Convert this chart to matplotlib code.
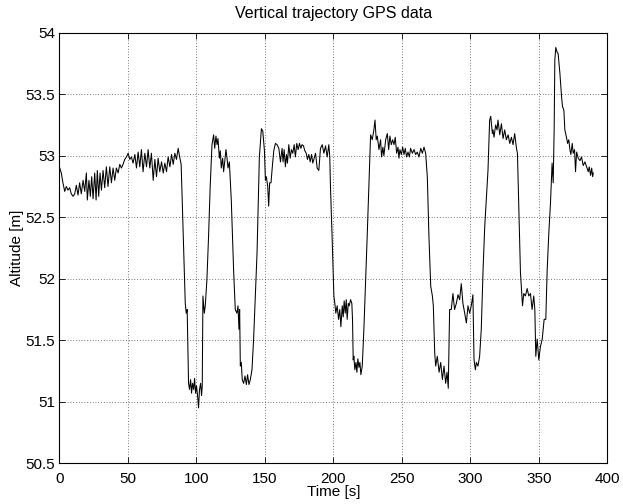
import numpy as np
import matplotlib
matplotlib.use("Agg")
import matplotlib.pyplot as plt
from matplotlib.ticker import FuncFormatter

plt.rcParams['font.family'] = ['Liberation Sans', 'DejaVu Sans']

# ------------------------------
# Data, one chunk per flight phase
# ------------------------------
# level start, slowly climbing
time_level = [0.0, 1.4, 2.6, 3.9, 5.1, 6.3, 7.5, 8.7, 10.0, 11.2, 12.4, 13.6, 14.8, 16.0, 17.3,
              18.5, 19.7, 20.4, 21.6, 22.6, 23.6, 24.6, 25.8, 26.8, 27.7, 28.7, 29.7, 30.7, 31.9,
              33.1, 34.3, 35.5, 36.8, 38.0, 39.2, 40.4, 41.6, 42.9, 44.1, 45.3, 46.5, 47.7, 49.0,
              50.2, 51.4, 52.6, 53.8, 55.1, 56.3, 57.5, 58.7, 59.9, 61.1, 62.4, 63.6, 64.8, 66.0,
              67.2, 68.5, 69.7, 70.9, 72.1, 73.3, 74.6, 75.8, 77.0, 78.2, 79.4, 80.7, 81.9, 83.1,
              84.3, 85.5, 86.7, 88.0]
alt_level = [52.91, 52.86, 52.78, 52.71, 52.75, 52.72, 52.74, 52.69, 52.67, 52.69, 52.76, 52.68,
             52.78, 52.69, 52.80, 52.71, 52.86, 52.64, 52.80, 52.67, 52.83, 52.65, 52.86, 52.64,
             52.88, 52.67, 52.86, 52.72, 52.88, 52.74, 52.91, 52.75, 52.91, 52.78, 52.90, 52.80,
             52.90, 52.86, 52.93, 52.90, 52.93, 52.97, 52.99, 53.02, 52.97, 52.99, 52.94, 53.01,
             52.90, 53.03, 52.91, 53.05, 52.87, 53.02, 52.91, 53.05, 52.90, 53.02, 52.80, 52.97,
             52.83, 52.98, 52.87, 52.95, 52.86, 52.94, 52.87, 52.99, 52.91, 53.01, 52.93, 53.02,
             52.97, 53.06, 52.98]

# first two dips
time_dips1 = [88.9, 91.9, 92.6, 93.3, 94.3, 95.0, 95.8, 96.5, 97.2, 98.0, 98.7, 99.4, 100.1,
              100.9, 101.6, 102.3, 103.1, 103.8, 104.3, 104.8, 105.8, 106.5, 107.7, 108.9, 110.1,
              111.4, 112.6, 113.4, 114.3, 115.1, 115.8, 116.8, 117.5, 118.2, 119.2, 119.9, 120.7,
              121.6, 122.4, 123.1, 124.1, 124.8, 125.5, 127.2, 128.4, 129.6, 130.4, 131.1, 131.6,
              132.1, 132.8, 133.5, 134.5, 135.5, 136.5, 137.4, 138.4, 139.4, 140.6, 141.8, 144.3,
              146.0, 147.5, 148.5, 149.7, 150.4, 151.1, 152.1, 152.8, 153.5, 154.5, 155.3, 156.5,
              157.7]
alt_dips1 = [52.93, 51.80, 51.72, 51.75, 51.15, 51.10, 51.18, 51.07, 51.15, 51.10, 51.19, 51.07,
             51.13, 51.05, 50.95, 51.10, 51.15, 51.05, 51.13, 51.86, 51.72, 51.78, 51.99, 52.34,
             52.75, 53.09, 53.17, 53.06, 53.16, 53.09, 53.14, 52.98, 53.04, 52.90, 52.98, 52.87,
             52.95, 53.05, 52.98, 52.90, 52.95, 52.79, 52.64, 52.07, 51.75, 51.72, 51.78, 51.59,
             51.75, 51.29, 51.32, 51.18, 51.15, 51.21, 51.14, 51.22, 51.14, 51.18, 51.26, 51.51,
             52.21, 52.99, 53.22, 53.20, 53.04, 52.80, 52.83, 52.75, 52.59, 52.78, 52.78, 52.89,
             53.04, 53.10]

# level stretch before the steps
time_level2 = [158.9, 160.2, 161.4, 162.6, 163.3, 164.1, 165.0, 165.8, 166.5, 167.5, 168.5, 169.4,
               170.4, 171.4, 172.3, 173.3, 174.3, 175.3, 176.3, 177.2, 178.2, 179.2, 180.2, 181.1,
               182.1, 183.1, 184.1, 185.0, 186.0, 187.0, 188.2, 189.4, 190.6, 191.9, 193.1, 194.3,
               195.5, 196.7, 197.4]
alt_level2 = [53.09, 53.06, 52.95, 53.06, 52.95, 53.05, 52.91, 53.01, 52.94, 53.09, 52.98, 53.05,
              53.02, 53.09, 52.99, 53.10, 53.05, 53.10, 53.06, 53.09, 53.08, 53.04, 53.02, 52.97,
              53.01, 52.95, 53.01, 52.94, 52.98, 53.02, 52.90, 52.88, 53.06, 53.09, 53.02, 53.08,
              52.99, 53.09, 52.99]

# two-step descent and climb, then level
time_steps = [197.9, 199.1, 200.4, 201.1, 201.8, 202.8, 203.8, 204.7, 205.5, 206.5, 207.2, 207.9,
              208.7, 209.4, 210.1, 210.9, 211.6, 212.6, 213.5, 214.0, 214.5, 215.0, 215.7, 216.5,
              217.2, 217.9, 218.7, 219.4, 220.1, 221.1, 222.3, 224.7, 226.7, 227.2, 228.4, 229.6,
              230.4, 231.3, 232.1, 233.3, 234.5, 235.2, 236.2, 236.9, 238.2, 239.4, 240.4, 241.3,
              242.3, 243.3, 244.3, 245.2, 246.2, 247.2, 247.9, 248.6, 249.6, 250.6, 251.6, 252.5,
              253.5, 254.5, 255.5, 256.4, 257.7, 258.9, 260.1, 261.3, 262.5, 263.8, 265.0, 266.2,
              267.4]
alt_steps = [52.75, 52.34, 51.86, 51.80, 51.72, 51.78, 51.67, 51.75, 51.61, 51.78, 51.69, 51.82,
             51.72, 51.83, 51.67, 51.80, 51.78, 51.83, 51.80, 51.67, 51.34, 51.37, 51.26, 51.32,
             51.24, 51.35, 51.28, 51.32, 51.22, 51.29, 51.59, 52.34, 53.02, 53.17, 53.13, 53.21,
             53.29, 53.13, 53.16, 53.05, 53.13, 52.99, 53.07, 53.00, 53.13, 53.18, 53.05, 53.16,
             53.09, 53.13, 53.09, 53.15, 53.02, 53.07, 52.98, 53.05, 53.01, 53.07, 53.01, 53.06,
             52.99, 53.03, 52.99, 53.06, 53.02, 53.05, 53.01, 53.03, 52.99, 53.06, 53.02, 53.07,
             53.02]

# last descents and the overshoot at the end
time_end = [268.6, 269.8, 271.1, 272.3, 273.0, 274.0, 274.7, 275.9, 277.2, 278.4, 279.6, 280.8,
            282.0, 283.0, 283.9, 284.9, 286.1, 287.3, 288.5, 289.8, 291.0, 292.2, 293.4, 294.6,
            295.9, 297.1, 298.3, 299.5, 300.7, 301.9, 302.7, 303.7, 304.4, 305.6, 306.8, 308.0,
            309.3, 310.5, 312.9, 314.1, 314.9, 316.1, 316.6, 317.3, 318.5, 319.5, 320.2, 321.5,
            322.7, 323.9, 325.1, 326.3, 327.6, 328.8, 330.0, 331.2, 332.4, 333.7, 334.4, 335.4,
            336.6, 338.1, 339.0, 340.2, 341.5, 342.7, 343.9, 345.1, 346.3, 347.1, 347.8, 348.8,
            350.0, 351.2, 352.5, 353.9, 355.1, 356.1, 357.3, 358.5, 359.7, 360.5, 361.2, 361.7,
            362.4, 363.4, 364.1, 365.4, 366.6, 367.3, 368.3, 369.0, 370.2, 371.0, 371.9, 372.7,
            373.4, 374.4, 375.1, 376.1, 376.8, 377.6, 378.8, 380.0, 381.2, 382.4, 383.7, 384.9,
            386.1, 386.8, 387.8, 388.6, 389.3, 389.8]
alt_end = [52.83, 52.34, 51.94, 51.86, 51.78, 51.40, 51.29, 51.37, 51.24, 51.32, 51.18, 51.29,
           51.15, 51.24, 51.11, 51.75, 51.75, 51.88, 51.75, 51.80, 51.87, 51.83, 51.96, 51.80,
           51.72, 51.64, 51.78, 51.72, 51.78, 51.87, 51.34, 51.26, 51.32, 51.29, 51.37, 51.59,
           52.07, 52.42, 52.88, 53.29, 53.32, 53.18, 53.21, 53.15, 53.25, 53.21, 53.29, 53.17,
           53.26, 53.14, 53.21, 53.13, 53.17, 53.10, 53.15, 53.09, 53.18, 53.06, 53.02, 52.59,
           52.05, 51.78, 51.88, 51.86, 51.92, 51.86, 51.88, 51.75, 51.86, 51.75, 51.37, 51.51,
           51.34, 51.45, 51.51, 51.67, 51.67, 52.07, 52.37, 52.61, 52.94, 52.78, 53.21, 53.78,
           53.88, 53.84, 53.83, 53.67, 53.48, 53.40, 53.37, 53.21, 53.15, 53.10, 53.13, 53.05,
           53.01, 53.10, 53.02, 53.05, 52.87, 53.03, 52.98, 52.96, 52.99, 52.92, 52.95, 52.91,
           52.87, 52.91, 52.84, 52.90, 52.83, 52.86]

x_ticks = [0, 50, 100, 150, 200, 250, 300, 350, 400]
y_ticks = [50.5, 51, 51.5, 52, 52.5, 53, 53.5, 54]

time_s = np.concatenate([time_level, time_dips1, time_level2, time_steps, time_end])
alt_m = np.concatenate([alt_level, alt_dips1, alt_level2, alt_steps, alt_end])

# ------------------------------
# Plot (MATLAB-like look)
# ------------------------------
fig = plt.figure(figsize=(6.23, 5.04), dpi=100)
ax = fig.add_axes([0.0953, 0.0808, 0.8795, 0.8543])

ax.plot(time_s, alt_m, color='k', lw=0.75)

ax.set_xlim(0, 400)
ax.set_ylim(50.5, 54)
ax.set_xticks(x_ticks)
ax.set_yticks(y_ticks)
ax.yaxis.set_major_formatter(FuncFormatter(lambda v, p: f'{v:g}'))

ax.grid(True, color='k', linestyle=(0, (1, 3)), lw=0.5)
ax.tick_params(direction='in', top=True, right=True, length=4, width=0.6, labelsize=11)
ax.tick_params(axis='x', pad=6)
ax.tick_params(axis='y', pad=3)
for s in ax.spines.values():
    s.set_linewidth(0.8)

ax.set_title('Vertical trajectory GPS data', fontsize=11.5, pad=10.5)
ax.set_xlabel('Time [s]', fontsize=11)
ax.xaxis.set_label_coords(0.5, -0.05)
ax.set_ylabel('Altitude [m]', fontsize=11)
ax.yaxis.set_label_coords(-0.064, 0.5)

fig.savefig('out.png', dpi=100)
